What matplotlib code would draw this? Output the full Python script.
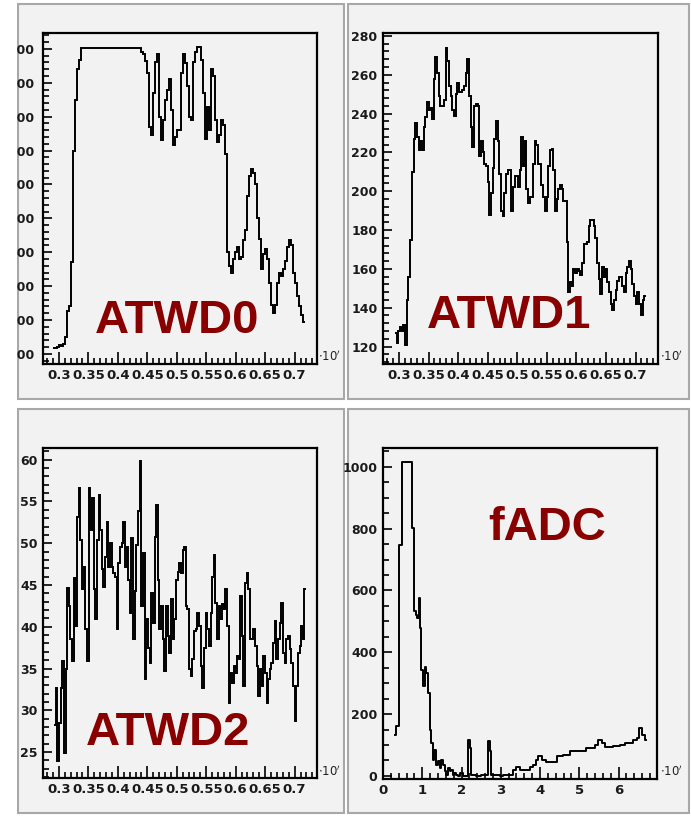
import numpy as np
import matplotlib.pyplot as plt
from matplotlib import ticker
from matplotlib.patches import Rectangle

W, H = 691, 816
plt.rcParams['font.family'] = ['Liberation Sans', 'DejaVu Sans']

# ---- data ----
# ATWD traces: one value per sample, samples evenly spread over [t_start, t_end] (x 1e-6)
atwd0_span = (0.2905, 0.7178)
atwd0 = [117, 117, 120, 127, 122, 130, 150, 225, 240, 370, 700, 850, 940, 968, 1003,
         1003, 1003, 1003, 1003, 1003, 1003, 1003, 1003, 1003, 1003,
         1003, 1003, 1003, 1003, 1003, 1003, 1003, 1003, 1003, 1003,
         1003, 1003, 1003, 1003, 1003, 1003, 1003, 1003, 1003,
         990, 985, 965, 930, 770, 745, 870, 960, 985, 800, 732, 790, 850, 880, 910,
         820, 715, 740, 762,
         762, 930, 985, 958, 890, 800, 790, 960, 990, 1007, 1005, 968, 870, 735, 830,
         760, 940, 920, 790, 725, 745, 790, 775, 690, 400, 358, 340, 380, 400, 415,
         380, 385, 437, 466, 565, 625, 645, 635, 600, 500, 440, 350, 395, 410, 380,
         310, 245, 220, 245, 310, 338, 330, 350, 375, 415, 437, 420, 340, 310, 270,
         240, 215, 195]

atwd1_span = (0.2933, 0.7175)
atwd1 = [127, 122, 128, 130, 128, 131, 121, 144, 156, 175, 210, 227, 235, 228, 221,
         226, 221, 233, 238, 246, 242, 243, 237, 258, 269, 261, 249, 244, 244, 247,
         274, 267, 254, 249, 242, 239, 250, 256, 251, 251, 252, 254, 261, 268, 249,
         233, 223, 244, 245, 244, 218, 226, 220, 214, 213, 205, 188, 199, 212, 227,
         236, 226, 209, 190, 187, 199, 209, 211, 211, 190, 202, 208, 208,
         202, 211, 228, 213, 226, 201, 194, 197, 197, 214, 226, 224, 214, 214, 203,
         197, 190, 197, 213, 221, 222, 211, 190, 196, 201, 203, 201, 195, 195, 174,
         148, 153, 151, 160, 158, 160, 159, 157, 163, 173, 173, 174, 182, 185, 185,
         182, 176, 163, 155, 147, 161, 156, 160, 153, 148, 142, 139, 144, 149, 154,
         156, 156, 151, 148, 158, 161, 164, 160, 152, 146, 142, 148, 142, 136, 144,
         146]

atwd2_span = (0.2917, 0.7195)
atwd2 = [28.3, 32.7, 23.9, 28.5, 32.7, 35.9, 24.9, 34.9, 44.7, 42.5, 38.5, 35.9, 45.8,
         40.1, 53.2, 56.6, 50.4, 44.5, 47.2, 39.7, 35.9, 56.6, 51.6, 55.4, 44.5, 40.9,
         50.4, 55.8, 51.6, 46.9, 44.8, 48.4, 52.6, 47.2, 50.0, 47.2, 46.4, 46.0, 39.7,
         47.6, 49.6, 50.0, 52.6, 47.2, 49.6, 45.6, 41.7, 50.6, 38.5, 44.3, 49.8, 53.8,
         59.8, 42.5, 48.8, 33.7, 40.9, 37.5, 35.7, 44.0, 40.5, 50.8, 54.6, 45.6, 39.7,
         42.5, 38.5, 34.7, 42.5, 38.9, 36.9, 43.3, 38.5, 40.9, 45.6, 46.6, 47.6,
         46.4, 49.2, 49.6, 42.5, 42.1, 34.9, 34.1, 36.1, 39.5, 39.7, 41.7, 40.1, 35.3,
         32.7, 37.5, 41.7, 39.7, 37.7, 41.7, 46.0, 48.6, 42.9, 38.5, 42.5, 40.9, 42.7,
         42.1, 44.5, 40.1, 30.9, 34.5, 33.3, 35.3, 34.5, 36.5, 36.1, 43.7, 38.9, 32.9,
         45.2, 46.4, 44.5, 38.5, 38.5, 39.7, 37.7, 35.3, 31.7, 34.9, 32.9, 36.5, 34.5,
         30.9, 33.7, 34.9, 35.7, 38.1, 40.7, 36.1, 38.5, 40.5, 42.9, 36.9, 35.7, 38.5,
         38.9, 37.3, 35.7, 32.9, 28.7, 32.9, 36.9, 37.7, 40.1, 38.5, 44.5]

# fADC: sample time (x 1e-6) and value, drawn as post steps
fadc_t = [0.293, 0.336, 0.404, 0.49, 0.728, 0.787, 0.83, 0.872, 0.906, 0.932, 0.974,
          1.017, 1.059, 1.102, 1.145, 1.187, 1.23, 1.27, 1.31, 1.36, 1.40, 1.44, 1.48,
          1.53, 1.57, 1.61, 1.65, 1.70, 1.74, 1.78, 1.82, 1.87, 1.91, 1.95, 2.04, 2.16,
          2.21, 2.25, 2.38, 2.50, 2.67, 2.72, 2.76, 2.97, 3.06, 3.18, 3.31, 3.40, 3.48,
          3.74, 3.82, 3.91, 3.95, 4.04, 4.16, 4.42, 4.59, 4.76, 5.10, 5.18, 5.40, 5.48,
          5.57, 5.65, 5.86, 6.03, 6.16, 6.37, 6.46, 6.53, 6.59, 6.67, 6.70]
fadc_v = [133, 160, 748, 1017, 801, 532, 520, 512, 577, 479, 343,
          291, 354, 332, 269, 150, 106, 52, 84, 36, 47, 25, 52,
          36, 15, 4, 25, 15, 20, 4, 9, 4, 0, 9, 0, 117,
          90, 4, 0, 2, 112, 79, 4, 0, 3, 3, 19, 28, 19,
          28, 35, 52, 63, 52, 46, 63, 68, 79, 82, 90, 100, 117,
          106, 95, 97, 100, 106, 117, 122, 154, 133, 117, 117]

labels = ['ATWD0', 'ATWD1', 'ATWD2', 'fADC']

# ---- layout in screenshot pixels ----
fig = plt.figure(figsize=(W / 100, H / 100), dpi=100)
fig.patch.set_facecolor('white')


def fbox(l, t, r, b):
    return [l / W, 1 - b / H, (r - l) / W, (b - t) / H]


pads = [(18, 4, 344, 399), (348, 4, 689, 399), (18, 409, 344, 813), (348, 409, 689, 813)]
for p in pads:
    x, y, w, h = fbox(*p)
    fig.patches.append(Rectangle((x, y), w, h, transform=fig.transFigure,
                                 facecolor='#f2f2f2', edgecolor='#a8a8a8', lw=1.5, zorder=-5))
# left edge of the screenshot cuts the tick labels
fig.patches.append(Rectangle((0, 0), 17 / W, 1, transform=fig.transFigure,
                             facecolor='white', edgecolor='none', zorder=20))


def frame(box, xlim, ylim, xmaj, xmin, ymaj, ymin, ypad=4):
    ax = fig.add_axes(fbox(*box))
    ax.set_facecolor('#f2f2f2')
    ax.set_xlim(xlim)
    ax.set_ylim(ylim)
    ax.xaxis.set_major_locator(ticker.MultipleLocator(xmaj))
    ax.xaxis.set_minor_locator(ticker.MultipleLocator(xmin))
    ax.yaxis.set_major_locator(ticker.MultipleLocator(ymaj))
    ax.yaxis.set_minor_locator(ticker.MultipleLocator(ymin))
    ax.xaxis.set_major_formatter(ticker.FormatStrFormatter('%g'))
    ax.yaxis.set_major_formatter(ticker.FormatStrFormatter('%g'))
    ax.tick_params(which='both', direction='in', top=False, right=False, width=1.2)
    ax.tick_params(axis='x', which='major', length=8.5, pad=3.5, labelsize=9.5)
    ax.tick_params(axis='x', which='minor', length=4.5)
    ax.tick_params(axis='y', which='major', length=6.5, pad=ypad, labelsize=9)
    ax.tick_params(axis='y', which='minor', length=4)
    ax.tick_params(axis='both', which='major', labelcolor='#1a1a1a')
    for s in ax.spines.values():
        s.set_linewidth(1.6)
    return ax


atwd_xlim = (0.273, 0.738)
ax0 = frame((43, 33, 317, 364), atwd_xlim, (70, 1047), 0.05, 0.01, 100, 20, ypad=6)
ax1 = frame((383, 33, 658, 364), atwd_xlim, (111, 281.5), 0.05, 0.01, 20, 4)
ax2 = frame((43, 448, 317, 778), atwd_xlim, (21.9, 61.4), 0.05, 0.01, 5, 1)
ax3 = frame((383, 448, 657, 779), (0, 6.98), (-10, 1061), 1, 0.2, 200, 50)

for ax, vals, span in [(ax0, atwd0, atwd0_span), (ax1, atwd1, atwd1_span), (ax2, atwd2, atwd2_span)]:
    edges = np.linspace(span[0], span[1], len(vals) + 1)
    ax.stairs(vals, edges, baseline=None, color='black', lw=1.4)

ax3.step(fadc_t, fadc_v, where='post', color='black', lw=1.4)

# ROOT-like tick label font
for ax in (ax0, ax1, ax2, ax3):
    for lab in ax.get_xticklabels() + ax.get_yticklabels():
        lab.set_fontfamily('DejaVu Sans')
        lab.set_fontweight('bold')

# exponent marks cut by the pad edge
for x, y in [(318, 361), (660, 361), (318, 776), (660, 776)]:
    fig.text(x / W, 1 - y / H, r'$\cdot10^{\prime}$', fontsize=8.5, color='#222222',
             ha='left', va='baseline')

# big channel names
for name, (x, y) in zip(labels, [(95, 333), (427, 328), (86, 745), (488, 540)]):
    fig.text(x / W, 1 - y / H, name, fontsize=34, fontweight='bold', color='#880000',
             ha='left', va='baseline')

fig.savefig('out.png', dpi=100)
